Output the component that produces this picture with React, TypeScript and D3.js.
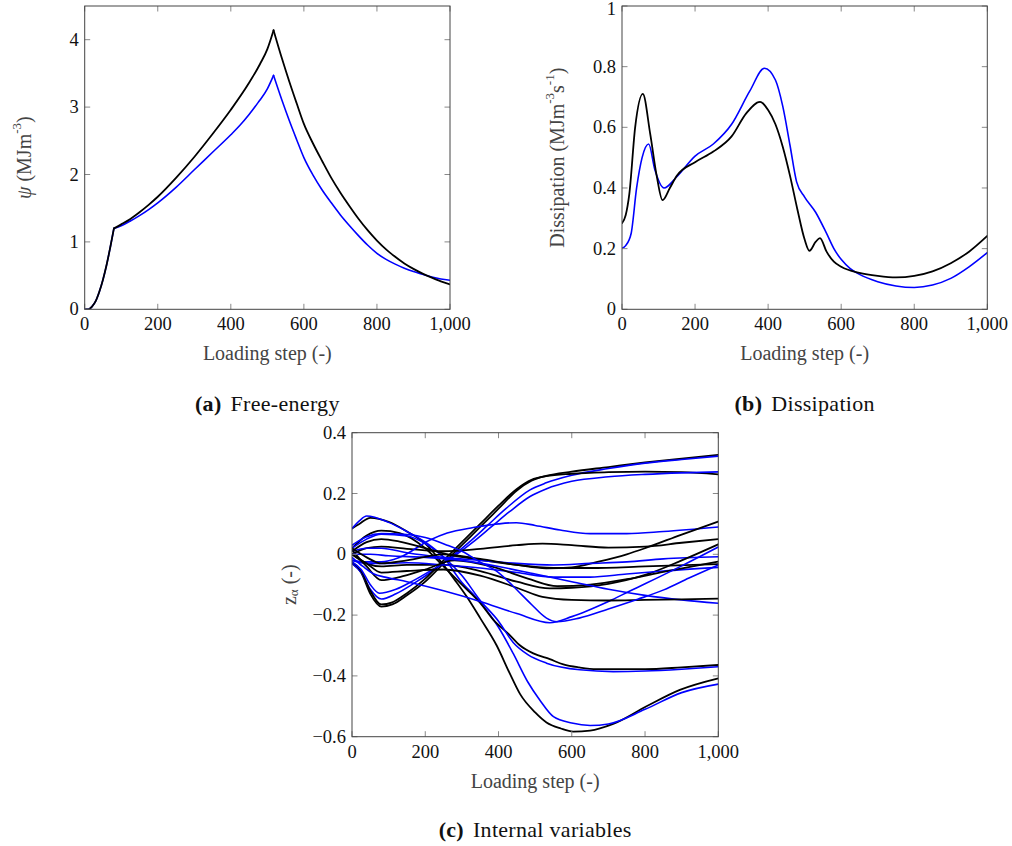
import React from "react";
import * as d3 from "d3";

// ---------- shared axis data ----------
const xTicks = [0, 200, 400, 600, 800, 1000];
const xTickLabels = ["0", "200", "400", "600", "800", "1,000"];

// ---------- (a) Free-energy ----------
const aYTicks = [0, 1, 2, 3, 4];
const aYTickLabels = ["0", "1", "2", "3", "4"];
const freeBlack: [number, number][] = [
  [0, 0], [10, 0], [20, 0.04], [30, 0.12], [40, 0.26], [50, 0.44], [60, 0.66], [70, 0.92], [80, 1.2],
  [100, 1.26], [125, 1.34], [150, 1.44], [175, 1.55], [200, 1.67], [250, 1.95], [300, 2.26], [350, 2.6],
  [400, 2.96], [450, 3.36], [480, 3.64], [500, 3.86], [517, 4.14],
  [540, 3.72], [560, 3.38], [580, 3.06], [600, 2.75], [625, 2.46], [650, 2.2], [675, 1.95], [700, 1.73],
  [725, 1.53], [750, 1.34], [775, 1.17], [800, 1.02], [825, 0.89], [850, 0.78], [875, 0.68], [900, 0.6],
  [925, 0.53], [950, 0.47], [975, 0.415], [1000, 0.37],
];
const freeBlue: [number, number][] = [
  [0, 0], [10, 0], [20, 0.04], [30, 0.12], [40, 0.26], [50, 0.44], [60, 0.66], [70, 0.92], [80, 1.2],
  [100, 1.24], [125, 1.31], [150, 1.39], [175, 1.48], [200, 1.58], [250, 1.81], [300, 2.07], [350, 2.33],
  [400, 2.59], [425, 2.73], [450, 2.89], [475, 3.07], [500, 3.27], [517, 3.47],
  [540, 3.1], [560, 2.8], [580, 2.52], [600, 2.25], [625, 1.99], [650, 1.77], [675, 1.58], [700, 1.4],
  [725, 1.24], [750, 1.09], [775, 0.95], [800, 0.83], [825, 0.74], [850, 0.67], [875, 0.61], [900, 0.56],
  [925, 0.52], [950, 0.48], [975, 0.45], [1000, 0.43],
];

// ---------- (b) Dissipation ----------
const bYTicks = [0, 0.2, 0.4, 0.6, 0.8, 1];
const bYTickLabels = ["0", "0.2", "0.4", "0.6", "0.8", "1"];
const dissBlack: [number, number][] = [
  [0, 0.284], [10, 0.31], [20, 0.38], [36, 0.6], [57, 0.71], [77, 0.58], [95, 0.44], [111, 0.36],
  [131, 0.4], [150, 0.44], [200, 0.485], [250, 0.52], [300, 0.57], [340, 0.646], [378, 0.684],
  [400, 0.657], [420, 0.61], [440, 0.536], [460, 0.44], [480, 0.33], [500, 0.23], [513, 0.193],
  [530, 0.222], [542, 0.235], [560, 0.19], [580, 0.157], [600, 0.14], [650, 0.12], [700, 0.11],
  [750, 0.105], [800, 0.11], [850, 0.125], [900, 0.152], [950, 0.19], [1000, 0.242],
];
const dissBlue: [number, number][] = [
  [0, 0.201], [10, 0.21], [25, 0.25], [40, 0.4], [55, 0.5], [73, 0.545], [90, 0.46], [115, 0.4],
  [150, 0.437], [200, 0.505], [250, 0.545], [300, 0.61], [350, 0.72], [390, 0.795], [420, 0.756],
  [440, 0.67], [460, 0.54], [478, 0.42], [500, 0.37], [530, 0.32], [560, 0.25], [580, 0.2],
  [601, 0.163], [624, 0.135], [650, 0.115], [700, 0.091], [750, 0.077], [800, 0.072], [850, 0.08],
  [900, 0.102], [950, 0.14], [1000, 0.187],
];

// ---------- (c) Internal variables ----------
const cYTicks = [-0.6, -0.4, -0.2, 0, 0.2, 0.4];
const cYTickLabels = ["\u22120.6", "\u22120.4", "\u22120.2", "0", "0.2", "0.4"];

const zBlackP1: [number, number][] = [[0, -0.03], [25, -0.06], [50, -0.13], [80, -0.172], [110, -0.165], [150, -0.135], [200, -0.09], [250, -0.03], [300, 0.03], [350, 0.09], [400, 0.15], [450, 0.21], [490, 0.242], [530, 0.258], [600, 0.272], [700, 0.287], [800, 0.302], [900, 0.315], [1000, 0.327]];
const zBlackP2: [number, number][] = [[0, -0.025], [25, -0.055], [50, -0.12], [80, -0.165], [110, -0.158], [150, -0.128], [200, -0.08], [250, -0.02], [300, 0.04], [350, 0.1], [400, 0.16], [450, 0.215], [490, 0.245], [530, 0.257], [600, 0.265], [700, 0.27], [800, 0.272], [900, 0.27], [1000, 0.263]];
const zBlackP3: [number, number][] = [[0, 0.085], [20, 0.1], [50, 0.12], [100, 0.107], [150, 0.075], [200, 0.035], [250, -0.035], [281, -0.085], [313, -0.139], [350, -0.21], [395, -0.3], [430, -0.39], [459, -0.46], [500, -0.52], [531, -0.553], [570, -0.573], [604, -0.583], [650, -0.58], [713, -0.558], [804, -0.5], [895, -0.446], [1000, -0.408]];
const zBlackP4: [number, number][] = [[0, 0.02], [40, 0.062], [80, 0.078], [130, 0.07], [200, 0.02], [250, -0.04], [300, -0.1], [350, -0.16], [386, -0.216], [430, -0.265], [459, -0.3], [495, -0.326], [540, -0.345], [577, -0.362], [620, -0.372], [668, -0.378], [800, -0.378], [900, -0.372], [1000, -0.364]];
const zBlackE: [number, number][] = [[0, 0.0], [40, 0.02], [80, 0.025], [150, 0.018], [250, 0.01], [350, 0.018], [450, 0.03], [520, 0.035], [600, 0.03], [700, 0.022], [800, 0.025], [900, 0.038], [1000, 0.05]];
const zBlackF: [number, number][] = [[0, 0.01], [40, 0.04], [80, 0.05], [130, 0.042], [200, 0.02], [260, 0.0], [350, -0.018], [450, -0.035], [530, -0.046], [600, -0.043], [670, -0.025], [750, 0.0], [800, 0.02], [900, 0.065], [1000, 0.108]];
const zBlackG: [number, number][] = [[0, 0.0], [40, -0.03], [80, -0.04], [150, -0.035], [250, -0.035], [350, -0.055], [450, -0.09], [540, -0.112], [600, -0.11], [700, -0.097], [800, -0.068], [900, -0.02], [1000, 0.033]];
const zBlackH: [number, number][] = [[0, 0.015], [40, -0.04], [80, -0.085], [130, -0.075], [200, -0.05], [280, -0.02], [380, -0.04], [480, -0.08], [560, -0.105], [650, -0.1], [750, -0.082], [850, -0.058], [1000, -0.024]];
const zBlackI: [number, number][] = [[0, 0.02], [40, -0.01], [80, -0.03], [150, -0.02], [250, 0.0], [350, -0.015], [450, -0.035], [550, -0.045], [650, -0.045], [800, -0.04], [1000, -0.032]];
const zBlackJ: [number, number][] = [[0, 0.0], [40, -0.03], [80, -0.06], [150, -0.055], [250, -0.05], [350, -0.07], [450, -0.11], [520, -0.14], [600, -0.15], [700, -0.152], [800, -0.15], [900, -0.148], [1000, -0.146]];

const zBlueP1: [number, number][] = [[0, -0.03], [25, -0.06], [50, -0.115], [80, -0.147], [120, -0.13], [170, -0.095], [220, -0.055], [270, -0.01], [320, 0.04], [370, 0.095], [420, 0.15], [486, 0.212], [530, 0.235], [600, 0.26], [700, 0.282], [800, 0.3], [900, 0.312], [1000, 0.323]];
const zBlueP2: [number, number][] = [[0, -0.025], [25, -0.05], [50, -0.1], [75, -0.128], [120, -0.115], [170, -0.085], [220, -0.05], [280, -0.005], [330, 0.04], [380, 0.09], [430, 0.14], [486, 0.19], [530, 0.215], [600, 0.24], [700, 0.255], [800, 0.263], [900, 0.268], [1000, 0.271]];
const zBlueP3: [number, number][] = [[0, 0.085], [20, 0.11], [40, 0.126], [100, 0.105], [150, 0.075], [200, 0.04], [250, -0.01], [295, -0.085], [349, -0.156], [400, -0.24], [440, -0.326], [480, -0.42], [513, -0.48], [550, -0.534], [600, -0.555], [650, -0.563], [700, -0.558], [800, -0.51], [900, -0.455], [1000, -0.427]];
const zBlueP4: [number, number][] = [[0, 0.02], [40, 0.05], [80, 0.066], [150, 0.06], [200, 0.035], [260, -0.02], [300, -0.07], [349, -0.15], [400, -0.22], [440, -0.29], [480, -0.33], [531, -0.358], [622, -0.38], [713, -0.386], [800, -0.384], [900, -0.378], [1000, -0.37]];
const zBlueK: [number, number][] = [[0, -0.02], [40, -0.025], [80, -0.025], [130, -0.01], [213, 0.047], [260, 0.07], [331, 0.088], [400, 0.1], [449, 0.104], [500, 0.095], [568, 0.08], [650, 0.068], [750, 0.068], [850, 0.075], [1000, 0.09]];
const zBlueL: [number, number][] = [[0, 0.01], [40, 0.02], [80, 0.02], [150, 0.005], [250, -0.01], [350, -0.02], [450, -0.03], [550, -0.035], [650, -0.03], [750, -0.025], [850, -0.015], [1000, -0.008]];
const zBlueM: [number, number][] = [[0, -0.02], [40, -0.03], [80, -0.03], [150, -0.028], [250, -0.035], [350, -0.045], [450, -0.06], [550, -0.075], [650, -0.075], [750, -0.065], [850, -0.055], [1000, -0.043]];
const zBlueN: [number, number][] = [[0, 0.0], [50, 0.0], [100, -0.005], [200, -0.01], [300, -0.02], [400, -0.04], [500, -0.065], [600, -0.09], [700, -0.115], [800, -0.135], [900, -0.15], [1000, -0.161]];
const zBlueV1: [number, number][] = [[0, -0.01], [30, -0.04], [60, -0.065], [90, -0.075], [150, -0.09], [250, -0.12], [350, -0.155], [450, -0.195], [540, -0.225], [600, -0.205], [700, -0.155], [760, -0.12], [800, -0.097], [900, -0.038], [1000, 0.024]];
const zBlueV2: [number, number][] = [[0, 0.03], [40, 0.058], [80, 0.068], [150, 0.065], [200, 0.055], [260, 0.03], [300, 0.01], [349, -0.025], [400, -0.06], [440, -0.105], [490, -0.165], [531, -0.21], [560, -0.222], [620, -0.21], [700, -0.18], [780, -0.148], [851, -0.117], [920, -0.078], [1000, -0.035]];

const zBlack = [zBlackP1, zBlackP2, zBlackP3, zBlackP4, zBlackE, zBlackF, zBlackG, zBlackH, zBlackI, zBlackJ];
const zBlue = [zBlueP1, zBlueP2, zBlueP3, zBlueP4, zBlueK, zBlueL, zBlueM, zBlueN, zBlueV1, zBlueV2];

const BLACK = "#000000";
const BLUE = "#0000ff";
const FONT = "Liberation Serif, Times New Roman, serif";
const FS_TICK = 18.5;
const FS_LABEL = 20;
const FS_CAP = 22;

type Pt = [number, number];
interface Series { pts: Pt[]; color: string; breaks?: number[]; width: number }

interface PanelProps {
  left: number; right: number; top: number; bottom: number;
  yDomain: [number, number];
  yTicks: number[]; yTickLabels: string[];
  series: Series[];
  ylabel: React.ReactNode;
  ylabelX: number;
  caption: [string, string];
  captionY: number;
}

function splitAt(pts: Pt[], breaks: number[] | undefined): Pt[][] {
  if (!breaks || breaks.length === 0) return [pts];
  const out: Pt[][] = [];
  let cur: Pt[] = [];
  pts.forEach((p) => {
    cur.push(p);
    if (breaks.includes(p[0])) {
      out.push(cur);
      cur = [p];
    }
  });
  if (cur.length > 1) out.push(cur);
  return out;
}

function Panel(p: PanelProps) {
  const x = d3.scaleLinear().domain([0, 1000]).range([p.left, p.right]);
  const y = d3.scaleLinear().domain(p.yDomain).range([p.bottom, p.top]);
  const line = d3.line<Pt>().x((d) => x(d[0])).y((d) => y(d[1])).curve(d3.curveMonotoneX);
  const cx = (p.left + p.right) / 2;
  const cy = (p.top + p.bottom) / 2;
  const tl = 5.5;
  const clipId = `clip${Math.round(p.left)}_${Math.round(p.top)}`;
  return (
    <g>
      <defs>
        <clipPath id={clipId}>
          <rect x={p.left} y={p.top} width={p.right - p.left} height={p.bottom - p.top} />
        </clipPath>
      </defs>
      <g clipPath={`url(#${clipId})`}>
        {p.series.map((s, i) =>
          splitAt(s.pts, s.breaks).map((seg, j) => (
            <path key={`${i}-${j}`} d={line(seg) || ""} fill="none" stroke={s.color} strokeWidth={s.width} strokeLinejoin="round" strokeLinecap="round" />
          ))
        )}
      </g>
      {xTicks.map((t, i) => (
        <g key={`xt${i}`}>
          <line x1={x(t)} x2={x(t)} y1={p.bottom} y2={p.bottom - tl} stroke="#888" strokeWidth={1} />
          <line x1={x(t)} x2={x(t)} y1={p.top} y2={p.top + tl} stroke="#888" strokeWidth={1} />
          <text x={x(t)} y={p.bottom + 15} textAnchor="middle" dominantBaseline="central" style={{ fontFamily: FONT }} fontSize={FS_TICK} fill="#111">{xTickLabels[i]}</text>
        </g>
      ))}
      {p.yTicks.map((t, i) => (
        <g key={`yt${i}`}>
          <line x1={p.left} x2={p.left + tl} y1={y(t)} y2={y(t)} stroke="#888" strokeWidth={1} />
          <line x1={p.right} x2={p.right - tl} y1={y(t)} y2={y(t)} stroke="#888" strokeWidth={1} />
          <text x={p.left - 6} y={Math.max(y(t), 9)} textAnchor="end" dominantBaseline="central" style={{ fontFamily: FONT }} fontSize={FS_TICK} fill="#111">{p.yTickLabels[i]}</text>
        </g>
      ))}
      <rect x={p.left} y={p.top} width={p.right - p.left} height={p.bottom - p.top} fill="none" stroke="#444" strokeWidth={1} />
      <text x={cx} y={p.bottom + 44} textAnchor="middle" dominantBaseline="central" style={{ fontFamily: FONT }} fontSize={FS_LABEL} fill="#444">Loading step (-)</text>
      <text transform={`translate(${p.ylabelX},${cy}) rotate(-90)`} textAnchor="middle" dominantBaseline="central" style={{ fontFamily: FONT }} fontSize={FS_LABEL} fill="#444">{p.ylabel}</text>
      <text x={cx} y={p.captionY} textAnchor="middle" dominantBaseline="central" style={{ fontFamily: FONT, letterSpacing: "0.3px" }} fontSize={FS_CAP} fill="#111">
        <tspan fontWeight="bold">{p.caption[0]}</tspan>
        <tspan dx={9}>{p.caption[1]}</tspan>
      </text>
    </g>
  );
}

export default function App() {
  const aSeries: Series[] = [
    { pts: freeBlue, color: BLUE, breaks: [80, 517], width: 1.6 },
    { pts: freeBlack, color: BLACK, breaks: [80, 517], width: 1.8 },
  ];
  const bSeries: Series[] = [
    { pts: dissBlue, color: BLUE, width: 1.6 },
    { pts: dissBlack, color: BLACK, width: 1.8 },
  ];
  const cSeries: Series[] = [];
  zBlack.forEach((s, i) => {
    cSeries.push({ pts: s, color: BLACK, width: 1.8 });
    cSeries.push({ pts: zBlue[i], color: BLUE, width: 1.6 });
  });
  const sup = (t: string) => <tspan dy={-8} fontSize={13}>{t}</tspan>;
  return (
    <svg width={1012} height={846} style={{ position: "absolute", left: 0, top: 0, background: "#fff" }}>
      <rect x={0} y={0} width={1012} height={846} fill="#fff" />
      <Panel left={84.7} right={450} top={6} bottom={309.3} yDomain={[0, 4.5]}
        yTicks={aYTicks} yTickLabels={aYTickLabels} series={aSeries}
        ylabel={<><tspan fontStyle="italic">ψ</tspan><tspan> (MJm</tspan>{sup("-3")}<tspan dy={8}>)</tspan></>}
        ylabelX={24} caption={["(a)", "Free-energy"]} captionY={403} />
      <Panel left={622} right={987.3} top={6} bottom={309.3} yDomain={[0, 1]}
        yTicks={bYTicks} yTickLabels={bYTickLabels} series={bSeries}
        ylabel={<><tspan>Dissipation (MJm</tspan>{sup("-3")}<tspan dy={8}>s</tspan>{sup("-1")}<tspan dy={8}>)</tspan></>}
        ylabelX={557} caption={["(b)", "Dissipation"]} captionY={403} />
      <Panel left={352} right={718.3} top={432.7} bottom={736.7} yDomain={[-0.6, 0.4]}
        yTicks={cYTicks} yTickLabels={cYTickLabels} series={cSeries}
        ylabel={<><tspan>z</tspan><tspan dy={4} fontSize={13}>α</tspan><tspan dy={-4}> (-)</tspan></>}
        ylabelX={289} caption={["(c)", "Internal variables"]} captionY={829} />
    </svg>
  );
}
